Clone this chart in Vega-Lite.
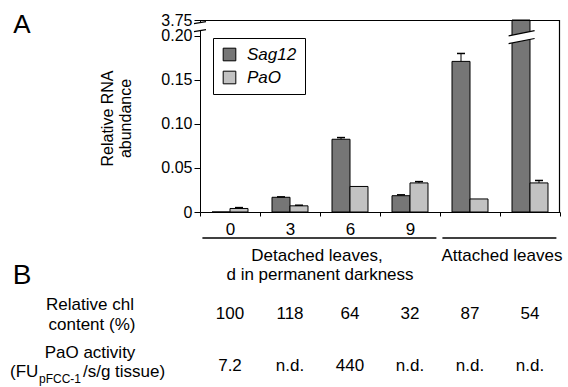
{
  "$schema": "https://vega.github.io/schema/vega-lite/v6.json",
  "width": 360,
  "height": 192,
  "autosize": {"type": "none"},
  "padding": {"left": 200, "top": 20, "right": 8, "bottom": 175},
  "config": {
    "font": "Liberation Sans",
    "view": {"stroke": null},
    "text": {"font": "Liberation Sans", "fontSize": 17, "color": "black"}
  },
  "resolve": {"axis": {"x": "independent", "y": "independent"}},
  "datasets": {
    "rna": [
      {"grp": "0", "gene": "Sag12", "value": 0.0, "err": null},
      {"grp": "0", "gene": "PaO", "value": 0.004, "err": 0.005},
      {"grp": "3", "gene": "Sag12", "value": 0.0167, "err": 0.0172},
      {"grp": "3", "gene": "PaO", "value": 0.007, "err": 0.0077},
      {"grp": "6", "gene": "Sag12", "value": 0.0826, "err": 0.0845},
      {"grp": "6", "gene": "PaO", "value": 0.029, "err": null},
      {"grp": "9", "gene": "Sag12", "value": 0.0185, "err": 0.0195},
      {"grp": "9", "gene": "PaO", "value": 0.033, "err": 0.0345},
      {"grp": "A1", "gene": "Sag12", "value": 0.171, "err": 0.18},
      {"grp": "A1", "gene": "PaO", "value": 0.0148, "err": null},
      {"grp": "A2", "gene": "Sag12", "value": 3.75, "err": null},
      {"grp": "A2", "gene": "PaO", "value": 0.033, "err": 0.0358}
    ],
    "table": [
      {"grp": "0", "chl": "100", "pao": "7.2"},
      {"grp": "3", "chl": "118", "pao": "n.d."},
      {"grp": "6", "chl": "64", "pao": "440"},
      {"grp": "9", "chl": "32", "pao": "n.d."},
      {"grp": "A1", "chl": "87", "pao": "n.d."},
      {"grp": "A2", "chl": "54", "pao": "n.d."}
    ],
    "brackets": [
      {"start": "0", "end": "9"},
      {"start": "A1", "end": "A2"}
    ],
    "frame": [
      {"start": "0", "end": "A2"}
    ],
    "one": [{}]
  },
  "layer": [
    {
      "data": {"name": "rna"},
      "mark": {"type": "bar", "stroke": "black", "strokeWidth": 1},
      "encoding": {
        "x": {
          "field": "grp", "type": "nominal",
          "scale": {"domain": ["0", "3", "6", "9", "A1", "A2"], "paddingInner": 0, "paddingOuter": 0},
          "axis": {
            "orient": "bottom",
            "title": null, "domain": true, "domainColor": "black", "tickBand": "extent",
            "tickColor": "black", "tickSize": 4,
            "labelExpr": "datum.value == 'A1' || datum.value == 'A2' ? '' : datum.value",
            "labelFontSize": 17, "labelAngle": 0, "labelColor": "black", "labelPadding": 5
          }
        },
        "xOffset": {
          "field": "gene", "type": "nominal",
          "scale": {"domain": ["Sag12", "PaO"], "paddingInner": 0, "paddingOuter": 0.667}
        },
        "y": {
          "field": "value", "type": "quantitative",
          "scale": {"domain": [0, 0.218], "clamp": true, "nice": false, "zero": true},
          "axis": {
            "orient": "left",
            "values": [0, 0.05, 0.1, 0.15, 0.2, 0.218],
            "labelExpr": "datum.value > 0.21 ? '3.75' : datum.value == 0 ? '0' : format(datum.value, '.2f')",
            "domain": true, "domainColor": "black", "tickColor": "black", "tickSize": 6,
            "labelFontSize": 16, "labelColor": "black", "labelPadding": 2, "grid": false,
            "labelOverlap": false, "labelFlush": false, "labelBound": false,
            "title": ["Relative RNA", "abundance"], "titleFontSize": 16, "titleFontWeight": "normal",
            "titleColor": "black", "titleX": -101, "titleY": 98, "titleAlign": "center",
            "titleAngle": -90, "titleBaseline": "top", "titleLineHeight": 18
          }
        },
        "color": {
          "field": "gene", "type": "nominal",
          "scale": {"domain": ["Sag12", "PaO"], "range": ["#767676", "#c2c2c2"]},
          "legend": {
            "orient": "none", "legendX": 13, "legendY": 18, "title": null,
            "strokeColor": "black", "fillColor": "white", "padding": 8,
            "symbolType": "square", "symbolSize": 160, "symbolStrokeColor": "black",
            "symbolStrokeWidth": 1, "symbolOpacity": 1,
            "labelFontSize": 17, "labelFontStyle": "italic", "labelOffset": 9,
            "rowPadding": 5, "labelColor": "black", "labelFont": "Liberation Sans"
          }
        }
      }
    },
    {
      "data": {"name": "frame"},
      "mark": {"type": "rule", "color": "black", "strokeWidth": 1.2, "yOffset": -191.5},
      "encoding": {
        "x": {"field": "start", "type": "nominal", "bandPosition": 0, "axis": null},
        "x2": {"field": "end", "bandPosition": 1},
        "y": {"datum": 0, "type": "quantitative", "axis": null}
      }
    },
    {
      "data": {"name": "frame"},
      "mark": {"type": "rule", "color": "black", "strokeWidth": 1.2, "xOffset": -0.5, "y2Offset": -192},
      "encoding": {
        "x": {"field": "end", "type": "nominal", "bandPosition": 1, "axis": null},
        "y": {"datum": 0, "type": "quantitative", "axis": null},
        "y2": {"datum": 0}
      }
    },
    {
      "data": {"name": "rna"},
      "transform": [{"filter": "datum.err != null"}],
      "mark": {"type": "rule", "color": "black", "strokeWidth": 1},
      "encoding": {
        "x": {"field": "grp", "type": "nominal", "axis": null},
        "xOffset": {"field": "gene", "type": "nominal"},
        "y": {"field": "value", "type": "quantitative", "axis": null},
        "y2": {"field": "err"}
      }
    },
    {
      "data": {"name": "rna"},
      "transform": [{"filter": "datum.err != null"}],
      "mark": {"type": "tick", "color": "black", "size": 8, "thickness": 1.5, "opacity": 1},
      "encoding": {
        "x": {"field": "grp", "type": "nominal", "axis": null},
        "xOffset": {"field": "gene", "type": "nominal"},
        "y": {"field": "err", "type": "quantitative", "axis": null}
      }
    },
    {
      "data": {"name": "one"},
      "mark": {"type": "point", "shape": "M-1,-0.5L1,-0.83L1,0.5L-1,0.83Z", "filled": true, "fill": "white", "stroke": null, "size": 144, "opacity": 1},
      "encoding": {
        "x": {"datum": "0", "type": "nominal", "bandPosition": 0, "axis": null},
        "y": {"datum": 0.2105, "type": "quantitative", "axis": null}
      }
    },
    {
      "data": {"name": "one"},
      "mark": {"type": "point", "shape": "M-1,-0.5L1,-0.83M-1,0.83L1,0.5", "filled": false, "stroke": "black", "strokeWidth": 1.2, "size": 144, "opacity": 1},
      "encoding": {
        "x": {"datum": "0", "type": "nominal", "bandPosition": 0, "axis": null},
        "y": {"datum": 0.2105, "type": "quantitative", "axis": null}
      }
    },
    {
      "data": {"name": "one"},
      "mark": {"type": "point", "shape": "M-1,-0.1L1,-0.5L1,0.1L-1,0.5Z", "filled": true, "fill": "white", "stroke": null, "size": 676, "opacity": 1},
      "encoding": {
        "x": {"datum": "A2", "type": "nominal", "bandPosition": 0.36, "axis": null},
        "y": {"datum": 0.1985, "type": "quantitative", "axis": null}
      }
    },
    {
      "data": {"name": "one"},
      "mark": {"type": "point", "shape": "M-1,-0.1L1,-0.5M-1,0.5L1,0.1", "filled": false, "stroke": "black", "strokeWidth": 1.2, "size": 676, "opacity": 1},
      "encoding": {
        "x": {"datum": "A2", "type": "nominal", "bandPosition": 0.36, "axis": null},
        "y": {"datum": 0.1985, "type": "quantitative", "axis": null}
      }
    },
    {
      "data": {"name": "brackets"},
      "mark": {"type": "rule", "color": "black", "strokeWidth": 1.5, "yOffset": 26},
      "encoding": {
        "x": {"field": "start", "type": "nominal", "bandPosition": 0.04, "axis": null},
        "x2": {"field": "end", "bandPosition": 0.94},
        "y": {"datum": 0, "type": "quantitative", "axis": null}
      }
    },
    {
      "data": {"values": [{"t": "Detached leaves,"}]},
      "mark": {"type": "text", "fontSize": 17, "baseline": "middle", "align": "center", "dx": -3, "dy": 44},
      "encoding": {
        "x": {"datum": "6", "type": "nominal", "bandPosition": 0, "axis": null},
        "y": {"datum": 0, "type": "quantitative", "axis": null},
        "text": {"field": "t"}
      }
    },
    {
      "data": {"values": [{"t": "d in permanent darkness"}]},
      "mark": {"type": "text", "fontSize": 17, "baseline": "middle", "align": "center", "dx": 0, "dy": 63},
      "encoding": {
        "x": {"datum": "6", "type": "nominal", "bandPosition": 0, "axis": null},
        "y": {"datum": 0, "type": "quantitative", "axis": null},
        "text": {"field": "t"}
      }
    },
    {
      "data": {"values": [{"t": "Attached leaves"}]},
      "mark": {"type": "text", "fontSize": 17, "baseline": "middle", "align": "center", "dx": 2, "dy": 44},
      "encoding": {
        "x": {"datum": "A2", "type": "nominal", "bandPosition": 0, "axis": null},
        "y": {"datum": 0, "type": "quantitative", "axis": null},
        "text": {"field": "t"}
      }
    },
    {
      "data": {"name": "table"},
      "mark": {"type": "text", "fontSize": 17, "baseline": "middle", "align": "center", "dy": 102},
      "encoding": {
        "x": {"field": "grp", "type": "nominal", "axis": null},
        "y": {"datum": 0, "type": "quantitative", "axis": null},
        "text": {"field": "chl"}
      }
    },
    {
      "data": {"name": "table"},
      "mark": {"type": "text", "fontSize": 17, "baseline": "middle", "align": "center", "dy": 154},
      "encoding": {
        "x": {"field": "grp", "type": "nominal", "axis": null},
        "y": {"datum": 0, "type": "quantitative", "axis": null},
        "text": {"field": "pao"}
      }
    },
    {
      "data": {"values": [{"t": "Relative chl"}]},
      "mark": {"type": "text", "fontSize": 17, "baseline": "middle", "align": "center", "dx": -110, "dy": 93},
      "encoding": {
        "x": {"datum": "0", "type": "nominal", "bandPosition": 0, "axis": null},
        "y": {"datum": 0, "type": "quantitative", "axis": null},
        "text": {"field": "t"}
      }
    },
    {
      "data": {"values": [{"t": "content (%)"}]},
      "mark": {"type": "text", "fontSize": 17, "baseline": "middle", "align": "center", "dx": -108, "dy": 113},
      "encoding": {
        "x": {"datum": "0", "type": "nominal", "bandPosition": 0, "axis": null},
        "y": {"datum": 0, "type": "quantitative", "axis": null},
        "text": {"field": "t"}
      }
    },
    {
      "data": {"values": [{"t": "PaO activity"}]},
      "mark": {"type": "text", "fontSize": 17, "baseline": "middle", "align": "center", "dx": -110, "dy": 141},
      "encoding": {
        "x": {"datum": "0", "type": "nominal", "bandPosition": 0, "axis": null},
        "y": {"datum": 0, "type": "quantitative", "axis": null},
        "text": {"field": "t"}
      }
    },
    {
      "data": {"values": [{"t": "(FU"}]},
      "mark": {"type": "text", "fontSize": 17, "baseline": "middle", "align": "left", "dx": -190, "dy": 160},
      "encoding": {
        "x": {"datum": "0", "type": "nominal", "bandPosition": 0, "axis": null},
        "y": {"datum": 0, "type": "quantitative", "axis": null},
        "text": {"field": "t"}
      }
    },
    {
      "data": {"values": [{"t": "pFCC-1"}]},
      "mark": {"type": "text", "fontSize": 12, "baseline": "middle", "align": "left", "dx": -161, "dy": 167},
      "encoding": {
        "x": {"datum": "0", "type": "nominal", "bandPosition": 0, "axis": null},
        "y": {"datum": 0, "type": "quantitative", "axis": null},
        "text": {"field": "t"}
      }
    },
    {
      "data": {"values": [{"t": "/s/g tissue)"}]},
      "mark": {"type": "text", "fontSize": 17, "baseline": "middle", "align": "left", "dx": -117, "dy": 160},
      "encoding": {
        "x": {"datum": "0", "type": "nominal", "bandPosition": 0, "axis": null},
        "y": {"datum": 0, "type": "quantitative", "axis": null},
        "text": {"field": "t"}
      }
    },
    {
      "data": {"values": [{"t": "A"}]},
      "mark": {"type": "text", "fontSize": 26, "baseline": "middle", "align": "center", "dx": -178, "dy": 5},
      "encoding": {
        "x": {"datum": "0", "type": "nominal", "bandPosition": 0, "axis": null},
        "y": {"datum": 0.218, "type": "quantitative", "axis": null},
        "text": {"field": "t"}
      }
    },
    {
      "data": {"values": [{"t": "B"}]},
      "mark": {"type": "text", "fontSize": 28, "baseline": "middle", "align": "center", "dx": -178, "dy": 64},
      "encoding": {
        "x": {"datum": "0", "type": "nominal", "bandPosition": 0, "axis": null},
        "y": {"datum": 0, "type": "quantitative", "axis": null},
        "text": {"field": "t"}
      }
    }
  ]
}
